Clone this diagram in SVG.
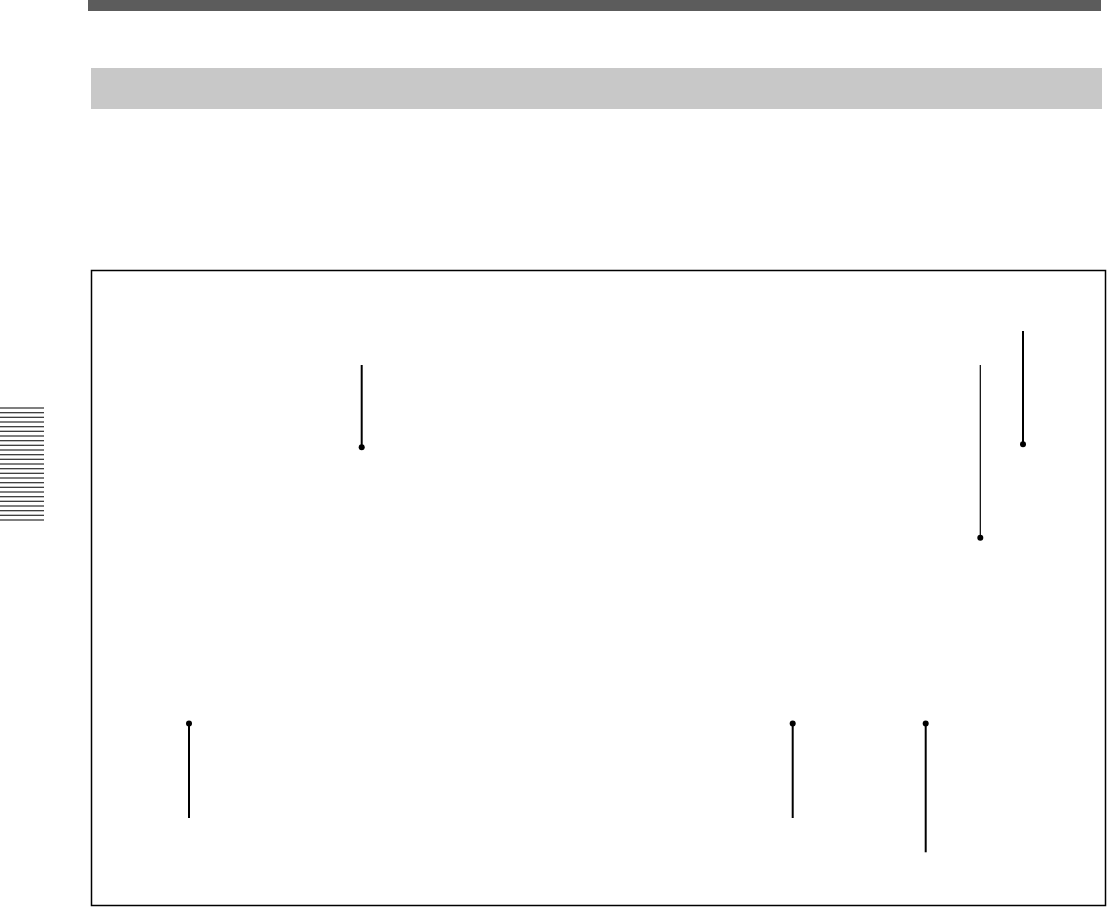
<svg xmlns="http://www.w3.org/2000/svg" width="1107" height="907" viewBox="0 0 1107 907">
<style>
.lead{stroke:#000;stroke-width:2;fill:none}
.thin{stroke:#000;stroke-width:1.2;fill:none}
.dot{fill:#000}
.stripe{stroke:#000;stroke-width:1.1}
</style>
<rect x="0" y="0" width="1107" height="907" fill="#fff"/>
<rect id="topbar" x="88" y="0" width="1013" height="11" fill="#5c5c5c"/>
<rect id="header" x="91" y="68" width="1011" height="41" fill="#c8c8c8"/>
<g id="tab">
<line class="stripe" x1="0" y1="408" x2="44" y2="408"/>
<line class="stripe" x1="0" y1="412.7" x2="44" y2="412.7"/>
<line class="stripe" x1="0" y1="417.3" x2="44" y2="417.3"/>
<line class="stripe" x1="0" y1="422" x2="44" y2="422"/>
<line class="stripe" x1="0" y1="426.7" x2="44" y2="426.7"/>
<line class="stripe" x1="0" y1="431.3" x2="44" y2="431.3"/>
<line class="stripe" x1="0" y1="436" x2="44" y2="436"/>
<line class="stripe" x1="0" y1="440.7" x2="44" y2="440.7"/>
<line class="stripe" x1="0" y1="445.3" x2="44" y2="445.3"/>
<line class="stripe" x1="0" y1="450" x2="44" y2="450"/>
<line class="stripe" x1="0" y1="454.7" x2="44" y2="454.7"/>
<line class="stripe" x1="0" y1="459.3" x2="44" y2="459.3"/>
<line class="stripe" x1="0" y1="464" x2="44" y2="464"/>
<line class="stripe" x1="0" y1="468.7" x2="44" y2="468.7"/>
<line class="stripe" x1="0" y1="473.3" x2="44" y2="473.3"/>
<line class="stripe" x1="0" y1="478" x2="44" y2="478"/>
<line class="stripe" x1="0" y1="482.7" x2="44" y2="482.7"/>
<line class="stripe" x1="0" y1="487.3" x2="44" y2="487.3"/>
<line class="stripe" x1="0" y1="492" x2="44" y2="492"/>
<line class="stripe" x1="0" y1="496.7" x2="44" y2="496.7"/>
<line class="stripe" x1="0" y1="501.3" x2="44" y2="501.3"/>
<line class="stripe" x1="0" y1="506" x2="44" y2="506"/>
<line class="stripe" x1="0" y1="510.7" x2="44" y2="510.7"/>
<line class="stripe" x1="0" y1="515.3" x2="44" y2="515.3"/>
<line class="stripe" x1="0" y1="520" x2="44" y2="520"/>
</g>
<rect id="frame" x="91.5" y="270.5" width="1014" height="635" fill="none" stroke="#000" stroke-width="1.5"/>
<g id="connectors">
<line class="lead" x1="361.7" y1="365" x2="361.7" y2="447"/>
<circle class="dot" cx="361.7" cy="447.3" r="3"/>
<line class="lead" x1="1023" y1="331" x2="1023" y2="444"/>
<circle class="dot" cx="1023" cy="444.3" r="3"/>
<line class="thin" x1="980.3" y1="365" x2="980.3" y2="537"/>
<circle class="dot" cx="980.3" cy="537.7" r="3"/>
<line class="lead" x1="189" y1="723.5" x2="189" y2="818"/>
<circle class="dot" cx="189" cy="723.5" r="3"/>
<line class="lead" x1="792.7" y1="723.5" x2="792.7" y2="818"/>
<circle class="dot" cx="792.7" cy="723.5" r="3"/>
<line class="lead" x1="925.7" y1="723.5" x2="925.7" y2="852.3"/>
<circle class="dot" cx="925.7" cy="723.5" r="3"/>
</g>
</svg>
